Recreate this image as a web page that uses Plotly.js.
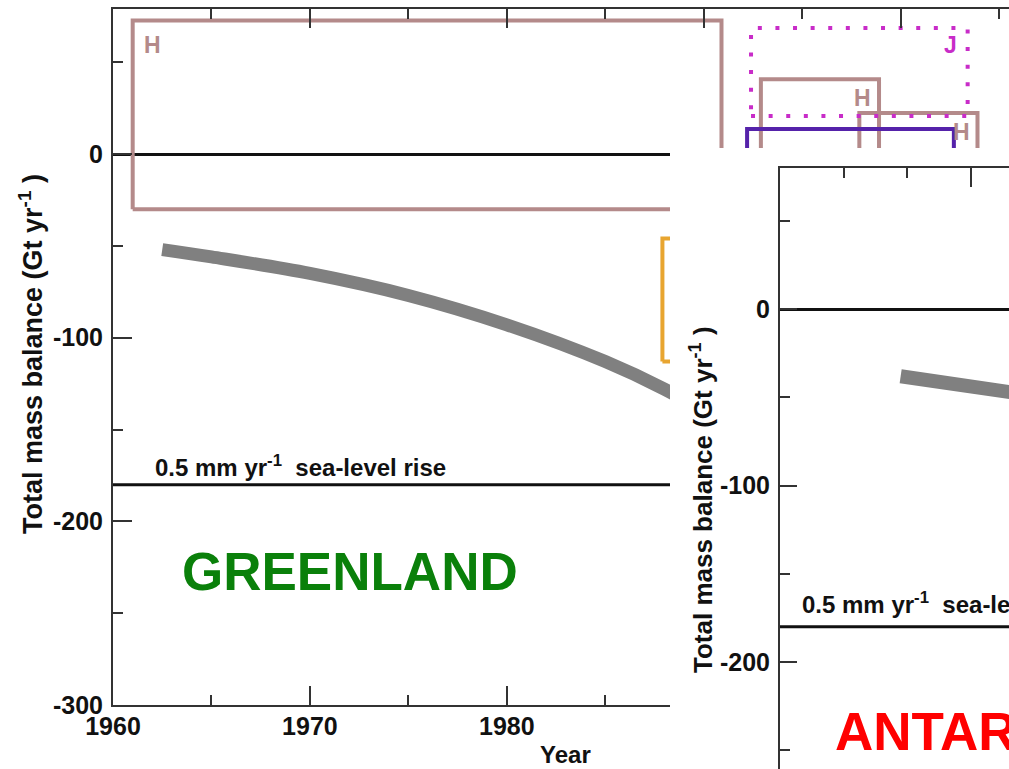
<!DOCTYPE html>
<html><head><meta charset="utf-8">
<script src="https://cdn.plot.ly/plotly-3.0.1.min.js"></script>
<style>html,body{margin:0;padding:0;background:#fff;overflow:hidden}</style>
</head><body><div id="chart" style="width:1009px;height:769px"></div>
<script>
// ---------- data ----------
// Greenland panel: illustrative trend (thick grey curve)
const gTrendYears  = [1962.5, 1965, 1970, 1975, 1980, 1985, 1988, 1991];
const gTrendValues = [-52, -56, -65, -77, -93, -113, -128, -146];
// Greenland assessment boxes: time span x mass-balance range
const gBoxLabels = ['H', '', 'H', 'H', '', 'J'];
const gBoxStart  = [1961, 1987.9, 1992.9, 1997.9, 1992.2, 1992.4];
const gBoxEnd    = [1990.9, 2004, 1998.9, 2003.9, 2002.7, 2003.4];
const gBoxLow    = [-30, -113, -45, -35, -40, 20.7];
const gBoxHigh   = [72.8, -46, 40.8, 22.3, 13.6, 68.6];
// Antarctica panel: illustrative trend
const aTrendYears  = [1969.5, 1980];
const aTrendValues = [-38, -49];
// 0.5 mm/yr sea-level rise equivalent
const seaLevelRise = -180;
// tick labels (labels under the overlapping panel are not visible)
const gXTickVals = [1960, 1970, 1980, 1990, 2000];
const gXTickText = ['1960', '1970', '1980', '', ''];
const gYTickVals = [-300, -200, -100, 0];
const gYTickText = ['-300', '-200', '-100', '0'];
const aYTickVals = [-200, -100, 0];
const aYTickText = ['-200', '-100', '0'];

// ---------- styles ----------
const W = 1009, H = 769;
const px = v => v / W, py = v => 1 - v / H;
const FONT = 'Liberation Sans, Arial, Helvetica, sans-serif';
const boxColors = ['#b48a8a', '#e8a530', '#b48a8a', '#b48a8a', '#5522aa', '#c82cc8'];
const boxDash   = ['solid', 'solid', 'solid', 'solid', 'solid', '4px,13.6px'];
const labelPlace = [
  {corner: 'left',  xshift: 9,  yshift: -10},
  null,
  {corner: 'right', xshift: -6, yshift: -4},
  {corner: 'right', xshift: -5, yshift: -4},
  null,
  {corner: 'right', xshift: -9, yshift: -2}
];
const AX = '#333';

const traces = [];
// Greenland boxes
gBoxStart.forEach((s, i) => {
  const e = gBoxEnd[i], lo = gBoxLow[i], hi = gBoxHigh[i];
  traces.push({
    type: 'scatter', mode: 'lines', xaxis: 'x', yaxis: 'y',
    x: [s, e, e, s, s], y: [lo, lo, hi, hi, lo],
    line: {color: boxColors[i], width: 4, dash: boxDash[i]},
    hoverinfo: 'skip', showlegend: false
  });
});
// Greenland trend
traces.push({
  type: 'scatter', mode: 'lines', xaxis: 'x', yaxis: 'y',
  x: gTrendYears, y: gTrendValues,
  line: {color: '#808080', width: 13, shape: 'spline'}, showlegend: false
});
// Greenland sea-level line
traces.push({
  type: 'scatter', mode: 'lines', xaxis: 'x', yaxis: 'y',
  x: [1960, 2010], y: [seaLevelRise, seaLevelRise],
  line: {color: '#111', width: 3}, showlegend: false
});
// cover subplot (empty)
traces.push({type: 'scatter', mode: 'lines', xaxis: 'x2', yaxis: 'y2', x: [], y: [], showlegend: false});
// Antarctica trend
traces.push({
  type: 'scatter', mode: 'lines', xaxis: 'x3', yaxis: 'y3',
  x: aTrendYears, y: aTrendValues,
  line: {color: '#808080', width: 14}, showlegend: false
});
traces.push({
  type: 'scatter', mode: 'lines', xaxis: 'x3', yaxis: 'y3',
  x: [1960, 2010], y: [seaLevelRise, seaLevelRise],
  line: {color: '#111', width: 3}, showlegend: false
});

const tickFont = {family: FONT, size: 25, color: '#111', weight: 'bold'};
const minorX = {tickmode: 'linear', tick0: 1960, dtick: 5, ticks: 'inside', ticklen: 10, tickwidth: 2, tickcolor: AX, showgrid: false};
const minorY = {tickmode: 'linear', tick0: 0, dtick: 50, ticks: 'inside', ticklen: 10, tickwidth: 2, tickcolor: AX, showgrid: false};

const annotations = [];
gBoxLabels.forEach((lab, i) => {
  if (!lab) return;
  const p = labelPlace[i];
  annotations.push({
    xref: 'x', yref: 'y',
    x: p.corner === 'left' ? gBoxStart[i] : gBoxEnd[i], y: gBoxHigh[i],
    xanchor: p.corner, yanchor: 'top', xshift: p.xshift, yshift: p.yshift,
    text: lab, showarrow: false,
    font: {family: FONT, size: 23, color: boxColors[i], weight: 'bold'}
  });
});
const txt = (text, x, y, size, color, extra) => Object.assign({
  xref: 'paper', yref: 'paper', x: px(x), y: py(y), text: text, showarrow: false,
  font: {family: FONT, size: size, color: color, weight: 'bold'}
}, extra || {});
annotations.push(txt('GREENLAND', 180, 571, 53, '#0a800a', {xanchor: 'left', yanchor: 'middle'}));
annotations.push(txt('0.5 mm yr<sup>-1</sup>\u00a0\u00a0sea-level rise', 153, 466, 24, '#111', {xanchor: 'left', yanchor: 'middle'}));
annotations.push(txt('Total mass balance (Gt yr<sup>-1</sup>\u00a0)', 31, 354, 27, '#111', {xanchor: 'center', yanchor: 'middle', textangle: -90}));
annotations.push(txt('Year', 565, 754, 24, '#111', {xanchor: 'center', yanchor: 'middle'}));
annotations.push(txt('Total mass balance (Gt yr<sup>-1</sup>\u00a0)', 702, 500, 26, '#111', {xanchor: 'center', yanchor: 'middle', textangle: -90}));
annotations.push(txt('0.5 mm yr<sup>-1</sup>\u00a0\u00a0sea-level rise', 800, 603, 24, '#111', {xanchor: 'left', yanchor: 'middle'}));
annotations.push(txt('ANTARCTICA', 833, 731, 53, '#ff0000', {xanchor: 'left', yanchor: 'middle'}));

const layout = {
  width: W, height: H,
  margin: {l: 0, r: 0, t: 0, b: 0, pad: 0},
  paper_bgcolor: '#fff', plot_bgcolor: '#fff', showlegend: false,
  font: {family: FONT},
  xaxis: {
    domain: [px(113), 1], range: [1960, 2005.5], anchor: 'y',
    showline: true, linecolor: AX, linewidth: 2, mirror: 'ticks',
    ticks: 'inside', ticklen: 19, tickwidth: 2, tickcolor: AX,
    tickmode: 'array', tickvals: gXTickVals, ticktext: gXTickText,
    minor: minorX, showgrid: false, zeroline: false, tickfont: tickFont, ticklabelstandoff: -2
  },
  yaxis: {
    domain: [py(705), py(9)], range: [-300, 79], anchor: 'x',
    showline: true, linecolor: AX, linewidth: 2, mirror: false,
    ticks: 'inside', ticklen: 19, tickwidth: 2, tickcolor: AX,
    tickmode: 'array', tickvals: gYTickVals, ticktext: gYTickText,
    minor: minorY, showgrid: false, zeroline: true, zerolinecolor: '#111', zerolinewidth: 3,
    tickfont: tickFont, ticklabelstandoff: 3
  },
  xaxis2: {domain: [px(670), 1], range: [0, 1], anchor: 'y2', showline: false, showticklabels: false, showgrid: false, zeroline: false, ticks: ''},
  yaxis2: {domain: [0, py(148)], range: [0, 1], anchor: 'x2', showline: false, showticklabels: false, showgrid: false, zeroline: false, ticks: ''},
  xaxis3: {
    domain: [px(780), 1], range: [1960, 1978.03], anchor: 'y3', side: 'top',
    showline: true, linecolor: AX, linewidth: 2, mirror: false,
    ticks: 'inside', ticklen: 19, tickwidth: 2, tickcolor: AX,
    tickmode: 'array', tickvals: [1975], showticklabels: false,
    minor: minorX, showgrid: false, zeroline: false
  },
  yaxis3: {
    domain: [0, py(168)], range: [-260.6, 80], anchor: 'x3',
    showline: true, linecolor: AX, linewidth: 2, mirror: false,
    ticks: 'inside', ticklen: 17, tickwidth: 2, tickcolor: AX,
    tickmode: 'array', tickvals: aYTickVals, ticktext: aYTickText,
    minor: minorY, showgrid: false, zeroline: true, zerolinecolor: '#111', zerolinewidth: 3,
    tickfont: tickFont, ticklabelstandoff: 3
  },
  annotations: annotations
};
Plotly.newPlot('chart', traces, layout, {displayModeBar: false, staticPlot: true});
</script></body></html>
